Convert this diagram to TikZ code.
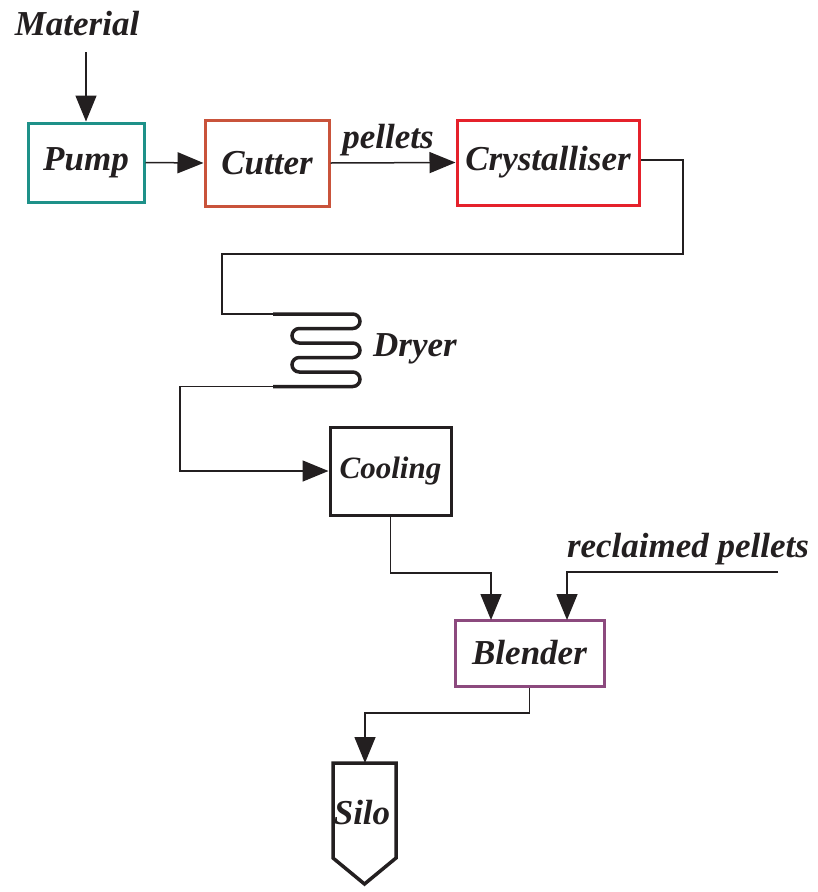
\documentclass[tikz,border=0pt]{standalone}
\usepackage{fontspec}
\setmainfont{Liberation Serif}
\usetikzlibrary{arrows.meta}
\definecolor{ink}{HTML}{231F20}
\definecolor{teal1}{HTML}{1E9189}
\definecolor{cutc}{HTML}{C9533B}
\definecolor{cryc}{HTML}{E5212B}
\definecolor{blc}{HTML}{8C4A7E}
\tikzset{
  lbl/.style={text=ink, font=\fontsize{35}{40}\selectfont\bfseries\itshape, inner sep=0pt},
  box/.style={draw, line width=3pt, fill=white, text=ink, font=\fontsize{35}{40}\selectfont\bfseries\itshape, inner sep=0pt},
  conn/.style={draw=ink, line width=1.5pt},
  arr/.style={conn, -{Triangle[length=26pt,width=21pt]}},
  coil/.style={draw=ink, line width=3.5pt, rounded corners=7.25pt}
}
\begin{document}
\begin{tikzpicture}[x=1pt,y=-1pt]
\useasboundingbox (0,0) rectangle (817,892);
% boxes
\node[box, draw=teal1, minimum width=116pt, minimum height=79pt] (pump) at (86,162.5) {Pump};
\node[box, draw=cutc, minimum width=124pt, minimum height=86pt] (cutter) at (267,163) {Cutter};
\node[box, draw=cryc, minimum width=182pt, minimum height=85pt] (cry) at (548,162.5) {Crystalliser};
\node[box, draw=ink, minimum width=121pt, minimum height=88pt, font=\fontsize{31}{36}\selectfont\bfseries\itshape] (cool) at (390.5,471) {Cooling};
\node[box, draw=blc, minimum width=149pt, minimum height=66pt] (blend) at (529.5,653) {Blender};
% labels
\node[lbl, anchor=base] (mat) at (77,35) {Material};
\node[lbl, anchor=base] (pel) at (388,148) {pellets};
\node[lbl, anchor=base] (rec) at (688,557) {reclaimed pellets};
\node[lbl, anchor=base west] (dry) at (373,356) {Dryer};
\node[lbl, anchor=base] (silo) at (362,824) {Silo};
% silo shape
\coordinate (silotop) at (365,763);
\draw[draw=ink, line width=3.5pt, line join=miter] (333,763) -- (396,763) -- (396,858) -- (364.5,884) -- (333,858) -- cycle;
% coordinates
\coordinate (matstart) at (86,52);
\coordinate (coilin) at (273,314);
\coordinate (coilout) at (273,386.5);
\coordinate (recstart) at (778,572);
% connectors
\draw[arr] (matstart) -- (pump.north);
\draw[arr] (pump.east) -- (cutter.west);
\draw[arr] (cutter.east) -- (cry.west);
\draw[conn] (cry.east |- 0,160) -- (683,160) -- (683,254) -- (222,254) -- (222,314) -- (coilin);
\draw[coil] (coilin) -- (360,314) -- (360,328.5) -- (292,328.5) -- (292,343) -- (360,343) -- (360,357.5) -- (292,357.5) -- (292,372) -- (360,372) -- (360,386.5) -- (coilout);
\draw[arr] (coilout) -- (180,386.5) -- (180,471) -- (cool.west);
\draw[arr] (cool.south) -- (390.5,573) -- (491,573) -- (491,620);
\draw[arr] (recstart) -- (567,572) -- (567,620);
\draw[arr] (blend.south) -- (529.5,713) -- (365,713) -- (silotop);
\end{tikzpicture}
\end{document}
